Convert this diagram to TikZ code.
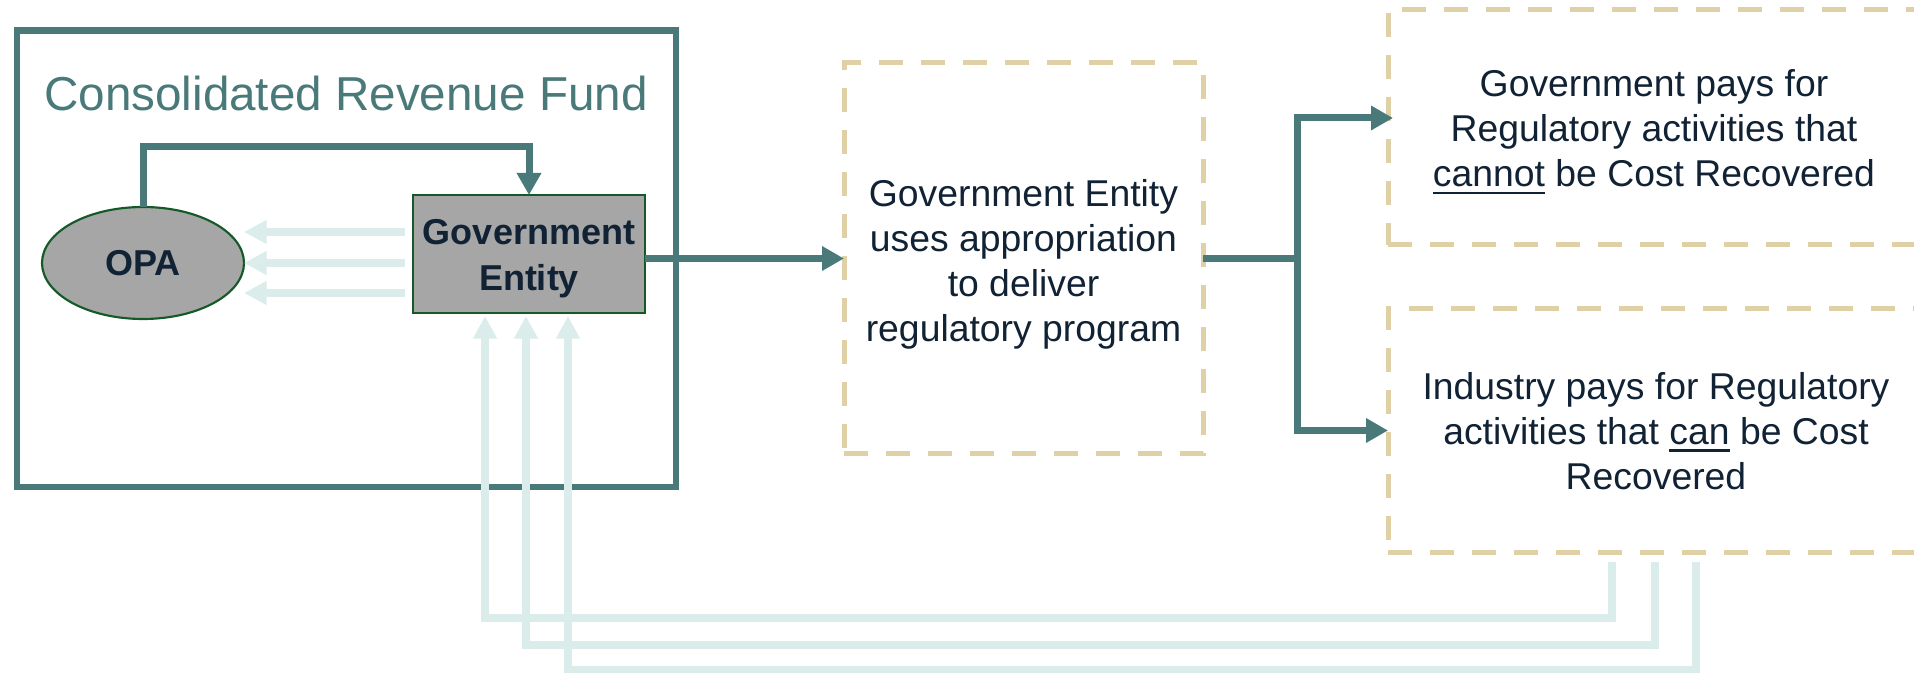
\documentclass[tikz,border=0pt]{standalone}
\usepackage{fontspec}
\setmainfont{Liberation Sans}
\usetikzlibrary{arrows.meta,calc,shapes.geometric}
\definecolor{tealc}{RGB}{73,121,121}
\definecolor{lightc}{RGB}{219,237,234}
\definecolor{beigec}{RGB}{223,208,165}
\definecolor{grayc}{RGB}{166,166,166}
\definecolor{dkgreen}{RGB}{20,90,40}
\definecolor{textc}{RGB}{16,34,52}
\newcommand{\myul}[1]{\setbox0=\hbox{#1}\rlap{\rule[-5.5pt]{\wd0}{1.8pt}}\box0\relax}
\begin{document}
\begin{tikzpicture}[x=0.75pt,y=-0.75pt,
  mainline/.style={draw=tealc,line width=5.25pt},
  mainarrow/.style={draw=tealc,line width=5.25pt,-{Triangle[length=16.5pt,width=17.5pt]}},
  lightarrow/.style={draw=lightc,line width=5.6pt,-{Triangle[length=17pt,width=17pt]}},
  dashbox/.style={draw=beigec,line width=3.75pt,dash pattern=on 18pt off 13.5pt,inner sep=0,outer sep=0},
  txt/.style={font=\fontsize{28}{33.75}\selectfont,align=center,text=textc,inner sep=0,outer sep=0},
  btxt/.style={font=\fontsize{27}{34.5}\selectfont\bfseries,align=center,text=textc},
  graybox/.style={draw=dkgreen,fill=grayc,line width=1.6pt,inner sep=0,outer sep=0}]
\useasboundingbox (0,0) rectangle (1914,673);
\clip (0,0) rectangle (1914,673);

% Consolidated Revenue Fund frame
\node[draw=tealc,line width=5pt,minimum width=494.25pt,minimum height=342.2pt,inner sep=0,outer sep=0] (crf) at (346.5,258.9) {};
\node[font=\fontsize{35.7}{43}\selectfont,text=tealc,anchor=base,inner sep=0] (title) at (346,111) {Consolidated Revenue Fund};

% OPA and Government Entity
\node[graybox,ellipse,minimum width=151.5pt,minimum height=84pt,btxt] (opa) at (143,263) {OPA};
\node[graybox,minimum width=174pt,minimum height=88.5pt] (ge) at (529,254) {};
\node[btxt,inner sep=0] (get) at (529,259) {Government\\Entity};

% dashed boxes
\node[dashbox,minimum width=269.25pt,minimum height=293.25pt] (ctr) at (1023.5,258.5) {};
\node[txt] (ctrt) at ($(ctr.center)+(0,6)$) {Government Entity\\uses appropriation\\to deliver\\regulatory program};
\node[dashbox,minimum width=414pt,minimum height=176.8pt] (trb) at (1664,127) {};
\node[dashbox,minimum width=414pt,minimum height=182.25pt] (brb) at (1664,430.5) {};
\node[txt] (trt) at (1654,132) {Government pays for\\Regulatory activities that\\\myul{cannot} be Cost Recovered};
\node[txt] (brt) at (1656,431) {Industry pays for Regulatory\\activities that \myul{can} be Cost\\Recovered};

% teal connectors
\draw[mainarrow] (opa.north) -- ++(0,-60) -| (ge.north);
\draw[mainarrow] (ctr.west -| ge.east) -- (ctr.west);
\coordinate (bp) at ($(ctr.east)+(94,0)$);
\draw[mainline] (ctr.east) -- (bp);
\draw[mainarrow] (bp) |- ($(trb.west)+(5,-9)$);
\draw[mainarrow] (bp) |- (brb.west);

% light arrows into OPA
\foreach \dy in {-31,0,30}{
  \draw[lightarrow] ($(ge.west |- opa.east)+(-8,\dy)$) -- ($(opa.east)+(0,\dy)$);
}

% light return arrows
\coordinate (r1) at (1612,562);
\coordinate (r2) at (1655,562);
\coordinate (r3) at (1696,562);
\coordinate (g1) at (485,316);
\coordinate (g2) at (526,316);
\coordinate (g3) at (568,316);
\draw[lightarrow] (r1) -- ++(0,56) -| (g1);
\draw[lightarrow] (r2) -- ++(0,83) -| (g2);
\draw[lightarrow] (r3) -- ++(0,108) -| (g3);
\end{tikzpicture}
\end{document}
